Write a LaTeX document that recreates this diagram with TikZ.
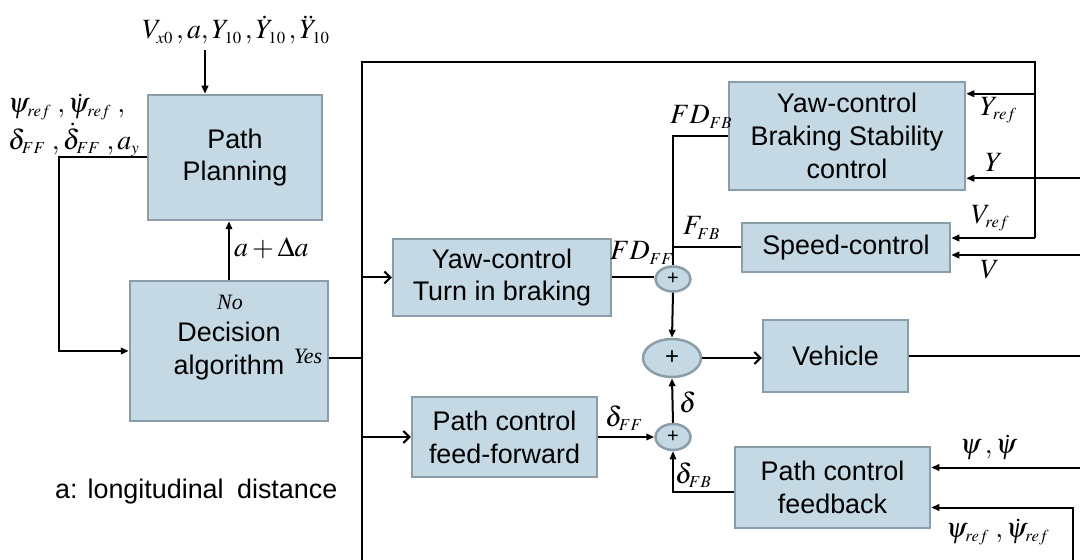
\documentclass[tikz,border=0pt]{standalone}
\usepackage{mathptmx}
\usepackage[no-math]{fontspec}
\setmainfont{Liberation Sans}
\newfontfamily\tms{Liberation Serif}
\usetikzlibrary{arrows.meta,shapes.geometric,calc}
\definecolor{boxfill}{RGB}{196,217,227}
\definecolor{boxline}{RGB}{138,157,168}
\newcommand\lsub[1]{_{\scriptscriptstyle #1}}
\begin{document}
\begin{tikzpicture}[x=1bp,y=-1bp,
  blk/.style={draw=boxline, line width=2.5bp, fill=boxfill, inner sep=0pt, font=\fontsize{27}{33}\selectfont, align=center},
  sumn/.style={ellipse, draw=boxline, line width=2.5bp, fill=boxfill, inner sep=0pt},
  ln/.style={line width=2bp},
  thinln/.style={line width=1.1bp},
  fa/.style={ln, -{Triangle[length=8bp,width=6.5bp]}},
  oa/.style={ln, -{Straight Barb[length=6bp,width=12bp,line width=2bp]}},
  lbl/.style={inner sep=0pt, font=\fontsize{28}{32}\selectfont},
  ital/.style={inner sep=0pt, font={\fontsize{22}{24}\selectfont\tms\itshape}}
]
\useasboundingbox (0,0) rectangle (1080,560);
% blocks
\node[blk, minimum width=174bp, minimum height=125bp] (pp) at (235,157.5) {Path\\Planning};
\node[blk, minimum width=198bp, minimum height=140bp] (dec) at (229,351) {Decision\\algorithm};
\node[blk, minimum width=218bp, minimum height=77bp] (tib) at (502,277.5) {Yaw-control\\Turn in braking};
\node[blk, minimum width=236bp, minimum height=108bp] (ybs) at (847,136) {Yaw-control\\Braking Stability\\control};
\node[blk, minimum width=208bp, minimum height=49bp] (spd) at (846,247.5) {Speed-control};
\node[blk, minimum width=145bp, minimum height=72bp] (veh) at (835.5,356) {Vehicle};
\node[blk, minimum width=185bp, minimum height=80bp] (pff) at (504.5,437) {Path control\\feed-forward};
\node[blk, minimum width=195bp, minimum height=81bp] (pfb) at (832.5,487.5) {Path control\\feedback};
% sums
\node[sumn, minimum width=35bp, minimum height=25bp, font=\fontsize{20}{20}\selectfont] (s1) at (673,279) {+};
\node[sumn, minimum width=58bp, minimum height=38bp, font=\fontsize{24}{24}\selectfont] (s2) at (672,358) {+};
\node[sumn, minimum width=35bp, minimum height=26bp, font=\fontsize{20}{20}\selectfont] (s3) at (673,437) {+};
% coordinates
\coordinate (ftl) at (362,62);
\coordinate (ftr) at (1035,62);
\coordinate (fbl) at (362,560);
\coordinate (j1) at (362,358);
\coordinate (c1) at (205,50);
\coordinate (E) at (1080,0);
\coordinate (psrb) at (1073,560);
\coordinate (yr) at ([yshift=-13bp]ybs.north east);
\coordinate (yy) at ([yshift=13bp]ybs.south east);
\coordinate (vr) at ([yshift=9.5bp]spd.east);
\coordinate (vv) at ([yshift=-7.5bp]spd.east);
\coordinate (ps) at ([yshift=20bp]pfb.east);
\coordinate (psr) at ([yshift=-20bp]pfb.east);
\coordinate (dfb) at ([yshift=-4.5bp]pfb.west);
% connectors
\draw[fa] (c1) -- (c1 |- pp.north);
\draw[fa] (pp.west) -- ++(-88,0) |- (dec.west);
\draw[fa] (dec.north) -- (dec.north |- pp.south);
\draw[thinln] (dec.east |- j1) -- (j1);
\draw[ln] (fbl) -- (ftl) -- (ftr) -- (ftr |- vr);
\draw[fa] (ftr |- yr) -- (yr);
\draw[fa] (ftr |- vr) -- (vr);
\draw[fa] (E |- yy) -- (yy);
\draw[fa] (E |- vv) -- (vv);
\draw[oa] (ftl |- tib.west) -- (tib.west);
\draw[oa] (ftl |- pff.west) -- (pff.west);
\draw[ln] (tib.east) -- (tib.east -| s1.west);
\draw[ln] (ybs.west) -| (s1.north);
\draw[ln] (spd.west) -- (spd.west -| s1.north);
\draw[fa] (s1.south) -- (s2.north);
\draw[oa] (s2.east) -- (s2.east -| veh.west);
\draw[ln] (veh.east) -- (veh.east -| E);
\draw[fa] (pff.east) -- (s3.west);
\draw[fa] (s3.north) -- (s2.south);
\draw[fa, line width=1.2bp] (dfb) -| (s3.south);
\draw[fa] (E |- ps) -- (ps);
\draw[fa] (psrb) |- (psr);
% labels
\node[lbl] (inp) at (236,30) {$V\lsub{x0}\,,a,Y\lsub{10}\,,\dot{Y}\lsub{10}\,,\ddot{Y}\lsub{10}$};
\node[lbl, anchor=west] (lpsi) at (8,107) {$\psi\lsub{ref}\;,\dot\psi\lsub{ref}\;,$};
\node[lbl, anchor=west] (ldel) at (8,140) {$\delta\lsub{FF}\;,\dot\delta\lsub{FF}\;,a\lsub{y}$};
\node[lbl, anchor=west] (lda) at (234,248) {$a+\Delta a$};
\node[lbl, anchor=west] (lfdfb) at (670,117) {$FD\lsub{FB}$};
\node[lbl, anchor=west] (lffb) at (683,228) {$F\lsub{FB}$};
\node[lbl, anchor=west] (lfdff) at (610,253) {$FD\lsub{FF}$};
\node[lbl, anchor=west] (lyr) at (980,110) {$Y\lsub{ref}$};
\node[lbl, anchor=west] (ly) at (985,162) {$Y$};
\node[lbl, anchor=west] (lvr) at (971,218) {$V\lsub{ref}$};
\node[lbl, anchor=west] (lv) at (980,270) {$V$};
\node[lbl, anchor=west] (ldff) at (605,418) {$\delta\lsub{FF}$};
\node[lbl, anchor=west] (ld) at (679,402) {$\delta$};
\node[lbl, anchor=west] (ldfb) at (675,475) {$\delta\lsub{FB}$};
\node[lbl, anchor=west] (lpsi2) at (960,447) {$\psi\,,\dot\psi$};
\node[lbl, anchor=west] (lpsir) at (946,532) {$\psi\lsub{ref}\;,\dot\psi\lsub{ref}$};
\node[ital] (lno) at (230,302) {No};
\node[ital] (lyes) at (308,356) {Yes};
\node[lbl, anchor=west, font=\fontsize{27}{30}\selectfont] (lnote) at (55,492) {a: longitudinal\hspace{6bp} distance};
\end{tikzpicture}
\end{document}
